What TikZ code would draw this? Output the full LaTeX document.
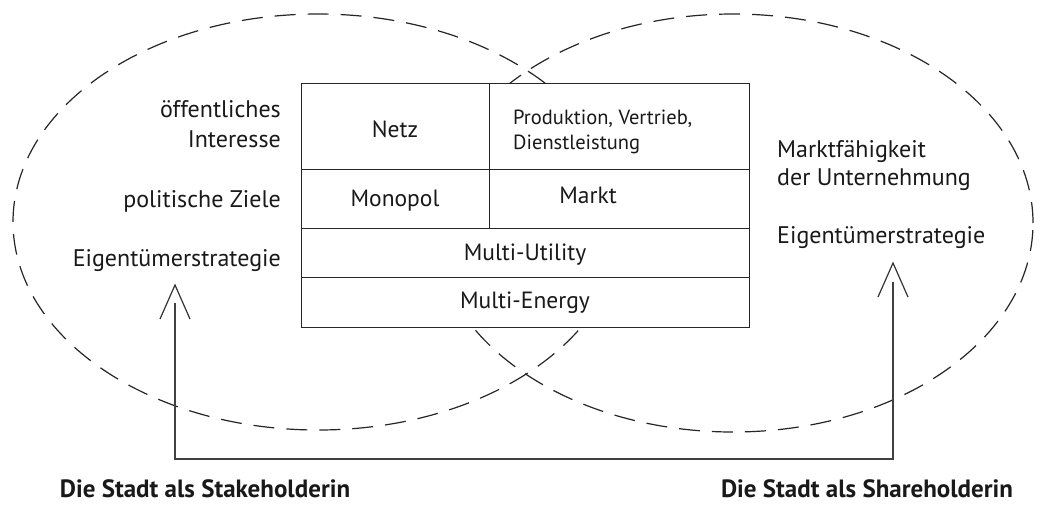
\documentclass[tikz,border=0pt]{standalone}
\usepackage{fontspec}
\setmainfont{PT Sans}
\usetikzlibrary{shapes.geometric}
\begin{document}
\begin{tikzpicture}[x=1pt,y=-1pt,
  ring/.style={draw=black!85, line width=1.2pt, dash pattern=on 21pt off 12pt, ellipse, inner sep=0pt},
  cell/.style={draw=black!85, line width=1.3pt, fill=white, anchor=north west, inner sep=0pt},
  lbl/.style={inner sep=0pt, font=\fontsize{24}{30}\selectfont, text=black!90},
  clbl/.style={inner sep=0pt, font=\fontsize{23.5}{26}\selectfont, text=black!90},
  plbl/.style={inner sep=0pt, font=\fontsize{20.5}{26}\selectfont, text=black!90},
  blbl/.style={inner sep=0pt, font=\bfseries\fontsize{25}{28}\selectfont, text=black!90},
  conn/.style={draw=black!75, line width=1.2pt},
  tip/.style={draw=black!80, line width=1.2pt, line join=miter}
]
\useasboundingbox (0,0) rectangle (1040,507);
\fill[white] (0,0) rectangle (1040,507);
% ellipses
\node[ring, minimum width=610pt, minimum height=416pt] (le) at (318,222) {};
\node[ring, minimum width=600pt, minimum height=418pt] (re) at (733,223) {};
% table cells
\node[cell, minimum width=188pt, minimum height=86pt] (netz) at (301,83) {};
\node[cell, minimum width=260pt, minimum height=86pt] (prod) at (489,83) {};
\node[cell, minimum width=188pt, minimum height=59pt] (mono) at (301,169) {};
\node[cell, minimum width=260pt, minimum height=59pt] (markt) at (489,169) {};
\node[cell, minimum width=448pt, minimum height=49pt] (util) at (301,228) {};
\node[cell, minimum width=448pt, minimum height=50pt] (energy) at (301,277) {};
\node[clbl, anchor=base] (netzt) at (395,137) {Netz};
\node[clbl, anchor=base] (monot) at (395,206) {Monopol};
\node[clbl, anchor=base] (marktt) at (588,203) {Markt};
\node[clbl, anchor=base] (utilt) at (525,260) {Multi-Utility};
\node[clbl, anchor=base] (energyt) at (525,308) {Multi-Energy};
\node[plbl, anchor=base west] (prod1) at (513,124) {Produktion, Vertrieb,};
\node[plbl, anchor=base west] (prod2) at (513,149) {Dienstleistung};
% left labels
\node[lbl, anchor=base east] (oi1) at (281,117) {öffentliches};
\node[lbl, anchor=base east] (oi2) at (281,147) {Interesse};
\node[lbl, anchor=base east] (pz) at (281,207) {politische Ziele};
\node[lbl, anchor=base east] (es1) at (281,266) {Eigentümerstrategie};
% right labels
\node[lbl, anchor=base west] (mf1) at (777,157) {Marktfähigkeit};
\node[lbl, anchor=base west] (mf2) at (777,185) {der Unternehmung};
\node[lbl, anchor=base west] (es2) at (777,243) {Eigentümerstrategie};
% bottom labels
\node[blbl] (stake) at (205,489) {Die Stadt als Stakeholderin};
\node[blbl] (share) at (867,489) {Die Stadt als Shareholderin};
% connector
\coordinate (ltop) at (175,303);
\coordinate (lbot) at (175,459);
\coordinate (rbot) at (893,459);
\coordinate (rtop) at (893,282);
\draw[conn] (ltop) -- (lbot) -- (rbot) -- (rtop);
% open arrowheads
\coordinate (ltip) at (175,285);
\coordinate (rtip) at (893,263);
\draw[tip] ([shift={(-15,34)}]ltip) -- (ltip) -- ([shift={(15,34)}]ltip);
\draw[tip] ([shift={(-15,34)}]rtip) -- (rtip) -- ([shift={(15,34)}]rtip);
\end{tikzpicture}
\end{document}
